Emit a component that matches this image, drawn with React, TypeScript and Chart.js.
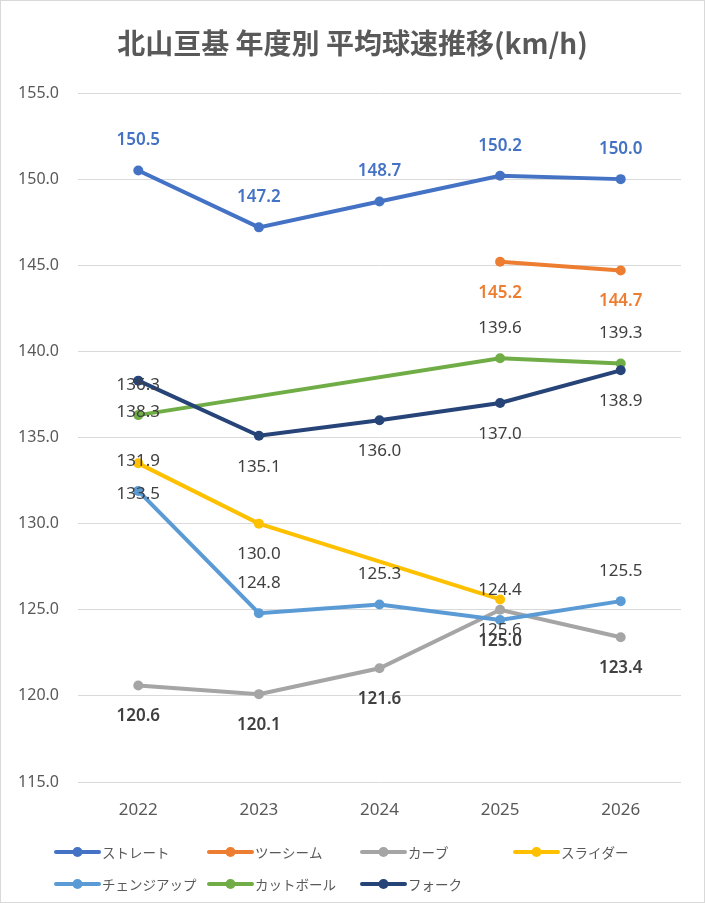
import React, { useEffect, useRef } from "react";
import Chart from "chart.js/auto";

// 年度
const years = ["2022", "2023", "2024", "2025", "2026"];

// 球種別 平均球速 (km/h)
const straight = [150.5, 147.2, 148.7, 150.2, 150.0];
const twoSeam = [null, null, null, 145.2, 144.7];
const curve = [120.6, 120.1, 121.6, 125.0, 123.4];
const slider = [133.5, 130.0, null, 125.6, null];
const changeUp = [131.9, 124.8, 125.3, 124.4, 125.5];
const cutBall = [136.3, null, null, 139.6, 139.3];
const fork = [138.3, 135.1, 136.0, 137.0, 138.9];

const yTicks = { min: 115, max: 155, step: 5 };

const TITLE = "北山亘基 年度別 平均球速推移(km/h)";
const NUM_FONT = '"Noto Sans", "Open Sans", sans-serif';
const JP_FONT = '"Noto Sans CJK JP", "Noto Sans", sans-serif';

interface Series {
    name: string;
    data: (number | null)[];
    color: string;
    labelColor: string;
    labelBold: boolean;
    labelPos: "above" | "below";
}

const series: Series[] = [
    { name: "ストレート", data: straight, color: "#4472C4", labelColor: "#4472C4", labelBold: true, labelPos: "above" },
    { name: "ツーシーム", data: twoSeam, color: "#ED7D31", labelColor: "#ED7D31", labelBold: true, labelPos: "below" },
    { name: "カーブ", data: curve, color: "#A5A5A5", labelColor: "#404040", labelBold: true, labelPos: "below" },
    { name: "スライダー", data: slider, color: "#FFC000", labelColor: "#404040", labelBold: false, labelPos: "below" },
    { name: "チェンジアップ", data: changeUp, color: "#5B9BD5", labelColor: "#404040", labelBold: false, labelPos: "above" },
    { name: "カットボール", data: cutBall, color: "#70AD47", labelColor: "#404040", labelBold: false, labelPos: "above" },
    { name: "フォーク", data: fork, color: "#264478", labelColor: "#404040", labelBold: false, labelPos: "below" },
];

const decorPlugin = {
    id: "decor",
    afterDatasetsDraw(chart: Chart) {
        const ctx = chart.ctx;
        ctx.save();
        // data labels
        ctx.textAlign = "center";
        ctx.textBaseline = "middle";
        series.forEach((s, i) => {
            const meta = chart.getDatasetMeta(i);
            ctx.font = `${s.labelBold ? "600 " : ""}17px ${NUM_FONT}`;
            ctx.fillStyle = s.labelColor;
            meta.data.forEach((pt: any, j: number) => {
                const v = s.data[j];
                if (v === null || v === undefined) return;
                const dy = s.labelPos === "above" ? -30 : 31;
                ctx.fillText(v.toFixed(1), pt.x, pt.y + dy);
            });
        });
        ctx.restore();
    },
    afterDraw(chart: Chart) {
        const ctx = chart.ctx;
        ctx.save();
        // title
        ctx.fillStyle = "#595959";
        ctx.font = `bold 28px ${JP_FONT}`;
        ctx.textAlign = "center";
        ctx.textBaseline = "middle";
        ctx.fillText(TITLE, chart.width / 2, 42);

        // legend
        ctx.font = `13.5px ${JP_FONT}`;
        ctx.textAlign = "left";
        series.forEach((s, i) => {
            const col = i % 4;
            const row = Math.floor(i / 4);
            const x = 55 + col * 153;
            const y = 851 + row * 32;
            ctx.strokeStyle = s.color;
            ctx.lineWidth = 4;
            ctx.lineCap = "round";
            ctx.beginPath();
            ctx.moveTo(x, y);
            ctx.lineTo(x + 43, y);
            ctx.stroke();
            ctx.fillStyle = s.color;
            ctx.beginPath();
            ctx.arc(x + 21.5, y, 5, 0, Math.PI * 2);
            ctx.fill();
            ctx.fillStyle = "#595959";
            ctx.fillText(s.name, x + 46, y + 1);
        });
        ctx.restore();
    },
};

const App = () => {
    const chartRef = useRef<Chart | null>(null);
    const canvasRef = useRef<HTMLCanvasElement | null>(null);

    useEffect(() => {
        document.body.style.margin = "0";
        if (chartRef.current) {
            chartRef.current.destroy();
        }
        const ctx = canvasRef.current?.getContext("2d");
        if (ctx) {
            chartRef.current = new Chart(ctx, {
                type: "line",
                data: {
                    labels: years,
                    datasets: series.map((s, i) => ({
                        label: s.name,
                        data: s.data,
                        borderColor: s.color,
                        backgroundColor: s.color,
                        borderWidth: 4,
                        pointRadius: 5,
                        pointHoverRadius: 5,
                        pointBorderWidth: 0,
                        spanGaps: true,
                        tension: 0,
                        order: series.length - i,
                    })),
                },
                options: {
                    animation: false,
                    responsive: true,
                    maintainAspectRatio: false,
                    layout: { padding: { top: 92, right: 23, bottom: 70, left: 0 } },
                    plugins: {
                        legend: { display: false },
                        title: { display: false },
                        tooltip: { enabled: false },
                    },
                    scales: {
                        x: {
                            offset: true,
                            grid: { display: false, drawTicks: false },
                            border: { display: false },
                            ticks: {
                                color: "#595959",
                                font: { family: NUM_FONT, size: 17 },
                                padding: 18,
                            },
                            afterFit: (scale: any) => {
                                scale.height = 50;
                            },
                        },
                        y: {
                            min: yTicks.min,
                            max: yTicks.max,
                            grid: { color: "#D9D9D9", lineWidth: 1, drawTicks: false },
                            border: { display: false },
                            ticks: {
                                stepSize: yTicks.step,
                                color: "#595959",
                                font: { family: NUM_FONT, size: 16 },
                                padding: 19,
                                callback: (v: any) => Number(v).toFixed(1),
                            },
                            afterFit: (scale: any) => {
                                scale.width = 77;
                            },
                        },
                    },
                },
                plugins: [decorPlugin],
            });
        }
        return () => {
            if (chartRef.current) {
                chartRef.current.destroy();
                chartRef.current = null;
            }
        };
    }, []);

    return (
        <div
            style={{
                width: 705,
                height: 903,
                boxSizing: "border-box",
                border: "1px solid #D9D9D9",
                background: "#fff",
                position: "relative",
            }}
        >
            <canvas ref={canvasRef} />
        </div>
    );
};

export default App;
